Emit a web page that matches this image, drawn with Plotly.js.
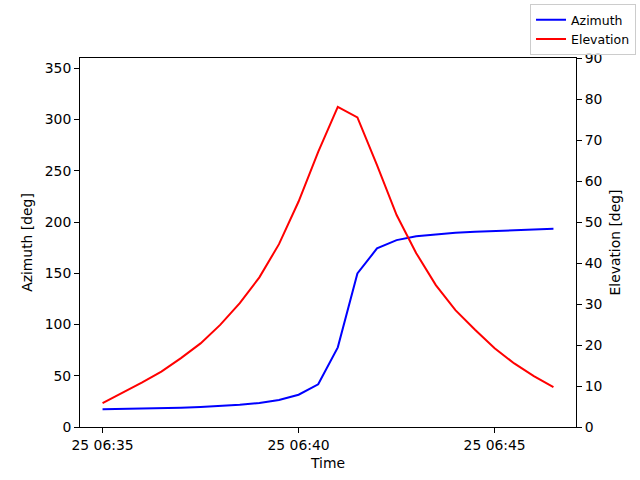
<!DOCTYPE html>
<html>
<head>
<meta charset="utf-8">
<script src="https://cdn.plot.ly/plotly-3.0.1.min.js"></script>
<style>
  body { margin: 0; background: #fff; }
  #chart { width: 640px; height: 480px; }
</style>
</head>
<body>
<div id="chart"></div>
<script>
// Samples every 30 s, 06:35:00 to 06:46:30
const times = [
  '2024-01-25 06:35:00', '2024-01-25 06:35:30', '2024-01-25 06:36:00', '2024-01-25 06:36:30',
  '2024-01-25 06:37:00', '2024-01-25 06:37:30', '2024-01-25 06:38:00', '2024-01-25 06:38:30',
  '2024-01-25 06:39:00', '2024-01-25 06:39:30', '2024-01-25 06:40:00', '2024-01-25 06:40:30',
  '2024-01-25 06:41:00', '2024-01-25 06:41:30', '2024-01-25 06:42:00', '2024-01-25 06:42:30',
  '2024-01-25 06:43:00', '2024-01-25 06:43:30', '2024-01-25 06:44:00', '2024-01-25 06:44:30',
  '2024-01-25 06:45:00', '2024-01-25 06:45:30', '2024-01-25 06:46:00', '2024-01-25 06:46:30'
];

const azimuth = [
  17.2, 17.5, 17.9, 18.3, 18.8, 19.5, 20.4, 21.7, 23.5, 26.4, 31.5, 41.7,
  77.7, 149.8, 174.2, 182.3, 186.2, 188.2, 189.5, 190.4, 191.4, 192.1, 192.7, 193.3
];

const elevation = [
  5.8, 8.2, 10.8, 13.5, 16.8, 20.4, 24.9, 30.2, 36.5, 44.6, 55.0, 67.1,
  78.1, 75.5, 63.9, 51.7, 42.4, 34.6, 28.5, 23.7, 19.2, 15.5, 12.4, 9.7
];

const font = { family: 'DejaVu Sans', size: 13.9, color: '#000' };

const traces = [
  {
    x: times, y: azimuth, name: 'Azimuth', type: 'scatter', mode: 'lines',
    line: { color: '#0000ff', width: 2 }, yaxis: 'y'
  },
  {
    x: times, y: elevation, name: 'Elevation', type: 'scatter', mode: 'lines',
    line: { color: '#ff0000', width: 2 }, yaxis: 'y2'
  }
];

const layout = {
  width: 640, height: 480,
  margin: { l: 80, r: 64, t: 58, b: 53, autoexpand: false },
  paper_bgcolor: '#fff', plot_bgcolor: '#fff',
  font: font,
  showlegend: true,
  legend: {
    x: 1.121, xanchor: 'right', y: 1.146, yanchor: 'top',
    bordercolor: '#cccccc', borderwidth: 1, bgcolor: 'rgba(255,255,255,0.8)',
    font: { family: 'DejaVu Sans', size: 12.5, color: '#000' }, tracegroupgap: 0
  },
  xaxis: {
    type: 'date',
    range: ['2024-01-25 06:34:25.5', '2024-01-25 06:47:04.5'],
    tick0: '2024-01-25 06:35:00', dtick: 300000,
    tickformat: '%d %H:%M',
    showgrid: false, zeroline: false,
    showline: true, linecolor: '#000', linewidth: 1, mirror: true,
    ticks: 'outside', ticklen: 5, tickcolor: '#000',
    title: { text: 'Time', font: font, standoff: 6 }
  },
  yaxis: {
    range: [0, 360], tick0: 0, dtick: 50,
    showgrid: false, zeroline: false,
    showline: true, linecolor: '#000', linewidth: 1,
    ticks: 'outside', ticklen: 5, tickcolor: '#000',
    title: { text: 'Azimuth [deg]', font: font, standoff: 8 }
  },
  yaxis2: {
    overlaying: 'y', side: 'right',
    range: [0, 90], tick0: 0, dtick: 10,
    showgrid: false, zeroline: false,
    showline: true, linecolor: '#000', linewidth: 1,
    ticks: 'outside', ticklen: 5, tickcolor: '#000',
    title: { text: 'Elevation [deg]', font: font, standoff: 8 }
  }
};

Plotly.newPlot('chart', traces, layout, { displayModeBar: false, staticPlot: true });
</script>
</body>
</html>
